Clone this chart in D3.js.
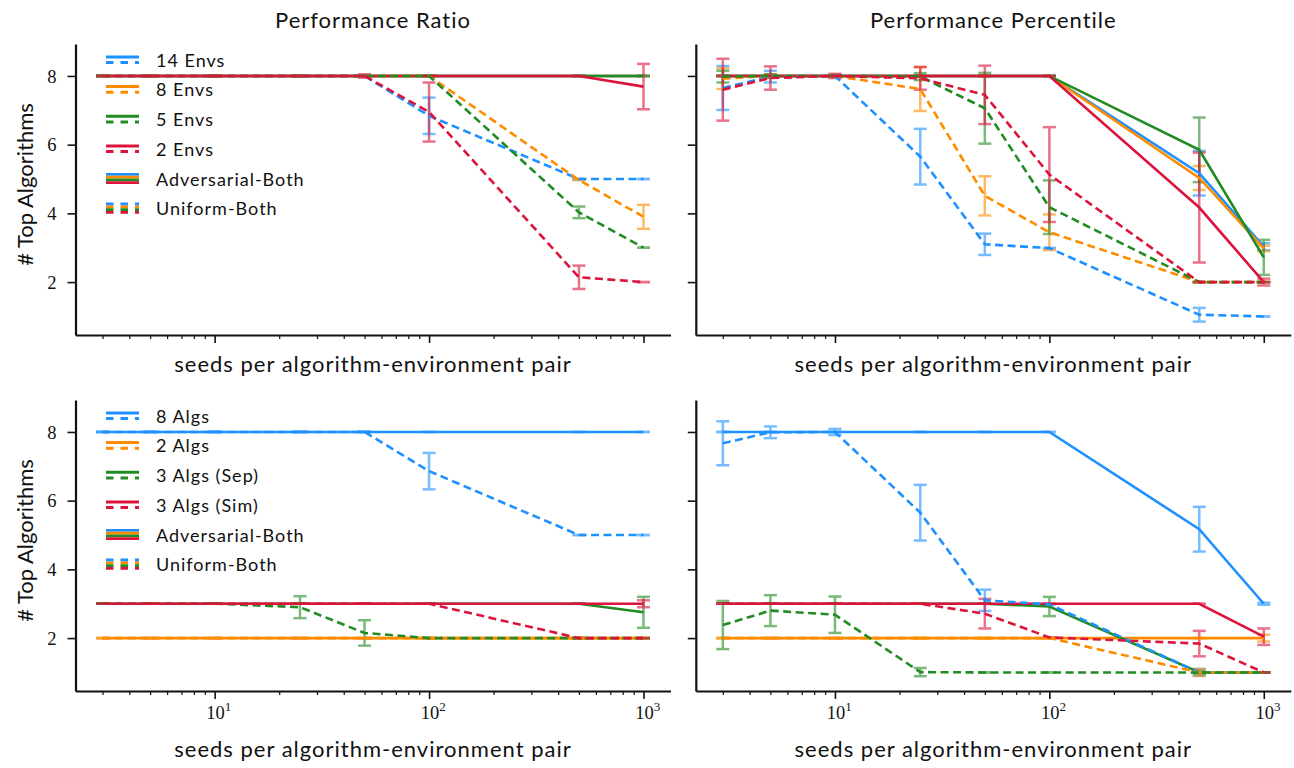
<!DOCTYPE html>
<html>
<head>
<meta charset="utf-8">
<script src="https://cdn.jsdelivr.net/npm/d3@7"></script>
<style>
  body { margin: 0; background: #fff; }
  .lbl { font-family: Lato, "Open Sans", sans-serif; fill: #111; letter-spacing: 1px; }
  .num { font-family: "Liberation Serif", "DejaVu Serif", serif; fill: #111; }
</style>
</head>
<body>
<div id="chart"></div>
<script>
// x values shared by every panel
var seeds = [3, 5, 10, 25, 50, 100, 500, 1000];
var colors = ["#1e90ff", "#ff8c00", "#228b22", "#dc143c"];
var envNames = ["14 Envs", "8 Envs", "5 Envs", "2 Envs"];
var algNames = ["8 Algs", "2 Algs", "3 Algs (Sep)", "3 Algs (Sim)"];
var titles = ["Performance Ratio", "Performance Percentile"];
var yTicks = [2, 4, 6, 8];
var xMajor = [10, 100, 1000];
var xMinor = [3, 4, 5, 6, 7, 8, 9, 20, 30, 40, 50, 60, 70, 80, 90, 200, 300, 400, 500, 600, 700, 800, 900];

// top-left: performance ratio, environments
var ratioEnvsAdv = [
  [8, 8, 8, 8, 8, 8, 8, 8],
  [8, 8, 8, 8, 8, 8, 8, 8],
  [8, 8, 8, 8, 8, 8, 8, 8],
  [8, 8, 8, 8, 8, 8, 8, 7.69]
];
var ratioEnvsAdvErr = [
  [0, 0, 0, 0, 0, 0, 0, 0],
  [0, 0, 0, 0, 0, 0, 0, 0],
  [0, 0, 0, 0, 0, 0, 0, 0],
  [0, 0, 0, 0, 0, 0, 0, 0.66]
];
var ratioEnvsUni = [
  [8, 8, 8, 8, 8, 6.84, 5, 5],
  [8, 8, 8, 8, 8, 8, 4.97, 3.9],
  [8, 8, 8, 8, 8, 8, 4.03, 3.0],
  [8, 8, 8, 8, 8, 6.95, 2.14, 2.0]
];
var ratioEnvsUniErr = [
  [0, 0, 0, 0, 0, 0.53, 0, 0],
  [0, 0, 0, 0, 0, 0, 0, 0.35],
  [0, 0, 0, 0, 0, 0, 0.17, 0],
  [0, 0, 0, 0, 0.05, 0.86, 0.34, 0]
];

// top-right: performance percentile, environments
var pctEnvsAdv = [
  [8, 8, 8, 8, 8, 8, 5.17, 3.03],
  [8, 8, 8, 8, 8, 8, 5.03, 2.98],
  [8, 8, 8, 8, 8, 8, 5.85, 2.72],
  [8, 8, 8, 8, 8, 8, 4.17, 2.0]
];
var pctEnvsAdvErr = [
  [0, 0, 0, 0, 0, 0, 0.65, 0.1],
  [0, 0, 0, 0, 0, 0, 0.35, 0.08],
  [0, 0, 0, 0, 0, 0, 0.94, 0.51],
  [0, 0, 0, 0, 0, 0, 1.6, 0.1]
];
var pctEnvsUni = [
  [7.65, 7.98, 8, 5.65, 3.1, 2.99, 1.05, 1.0],
  [7.92, 8, 8, 7.62, 4.51, 3.45, 2.0, 2.0],
  [7.98, 8, 8, 7.98, 7.06, 4.18, 2.0, 2.0],
  [7.6, 7.94, 8, 7.93, 7.45, 5.13, 2.0, 2.0]
];
var pctEnvsUniErr = [
  [0.64, 0.17, 0.03, 0.81, 0.31, 0, 0.2, 0],
  [0.3, 0.05, 0.03, 0.64, 0.57, 0.52, 0, 0],
  [0.17, 0.05, 0, 0.1, 1.03, 0.78, 0, 0],
  [0.9, 0.34, 0.06, 0.33, 0.85, 1.38, 0, 0]
];

// bottom-left: performance ratio, algorithms
var ratioAlgsAdv = [
  [8, 8, 8, 8, 8, 8, 8, 8],
  [2, 2, 2, 2, 2, 2, 2, 2],
  [3, 3, 3, 3, 3, 3, 3, 2.75],
  [3, 3, 3, 3, 3, 3, 3, 3]
];
var ratioAlgsAdvErr = [
  [0, 0, 0, 0, 0, 0, 0, 0],
  [0, 0, 0, 0, 0, 0, 0, 0],
  [0, 0, 0, 0, 0, 0, 0, 0.45],
  [0, 0, 0, 0, 0, 0, 0, 0.1]
];
var ratioAlgsUni = [
  [8, 8, 8, 8, 8, 6.86, 5, 5],
  [2, 2, 2, 2, 2, 2, 2, 2],
  [3, 3, 3, 2.9, 2.15, 2, 2, 2],
  [3, 3, 3, 3, 3, 3, 2, 2]
];
var ratioAlgsUniErr = [
  [0, 0, 0, 0, 0, 0.53, 0, 0],
  [0, 0, 0, 0, 0, 0, 0, 0],
  [0, 0, 0, 0.32, 0.37, 0, 0, 0],
  [0, 0, 0, 0, 0, 0, 0, 0]
];

// bottom-right: performance percentile, algorithms
var pctAlgsAdv = [
  [8, 8, 8, 8, 8, 8, 5.17, 3.0],
  [2, 2, 2, 2, 2, 2, 2, 2],
  [3, 3, 3, 3, 3, 2.92, 1.0, 1.0],
  [3, 3, 3, 3, 3, 3, 3, 2.04]
];
var pctAlgsAdvErr = [
  [0, 0, 0, 0, 0, 0, 0.65, 0.03],
  [0, 0, 0, 0, 0, 0, 0, 0.1],
  [0, 0, 0, 0, 0, 0.28, 0.05, 0],
  [0, 0, 0, 0, 0, 0, 0, 0.24]
];
var pctAlgsUni = [
  [7.67, 7.99, 8, 5.65, 3.1, 2.98, 1.0, 1.0],
  [2, 2, 2, 2, 2, 2, 1.0, 1.0],
  [2.38, 2.8, 2.68, 1.01, 1.0, 1.0, 1.0, 1.0],
  [3, 3, 3, 3, 2.71, 2.02, 1.84, 1.0]
];
var pctAlgsUniErr = [
  [0.64, 0.17, 0.09, 0.81, 0.31, 0, 0.1, 0],
  [0, 0, 0, 0, 0, 0, 0.1, 0],
  [0.7, 0.45, 0.53, 0.12, 0, 0, 0, 0],
  [0, 0, 0, 0, 0.43, 0, 0.37, 0]
];

var width = 1294, height = 768;
var cols = [{ x0: 75.5, x1: 670.5 }, { x0: 695.8, x1: 1290.8 }];
var rows = [{ y0: 44, y1: 335 }, { y0: 400, y1: 691 }];

var panels = [
  { row: 0, col: 0, adv: ratioEnvsAdv, advErr: ratioEnvsAdvErr, uni: ratioEnvsUni, uniErr: ratioEnvsUniErr, names: envNames },
  { row: 0, col: 1, adv: pctEnvsAdv, advErr: pctEnvsAdvErr, uni: pctEnvsUni, uniErr: pctEnvsUniErr, names: envNames },
  { row: 1, col: 0, adv: ratioAlgsAdv, advErr: ratioAlgsAdvErr, uni: ratioAlgsUni, uniErr: ratioAlgsUniErr, names: algNames },
  { row: 1, col: 1, adv: pctAlgsAdv, advErr: pctAlgsAdvErr, uni: pctAlgsUni, uniErr: pctAlgsUniErr, names: algNames }
];

var svg = d3.select("#chart").append("svg")
  .attr("width", width)
  .attr("height", height);

var DASH = "8,4.5";

panels.forEach(function(p) {
  var c = cols[p.col], r = rows[p.row];
  var x = d3.scaleLog()
    .domain([Math.pow(10, 0.351), Math.pow(10, 3.126)])
    .range([c.x0, c.x1]);
  var y = d3.scaleLinear()
    .domain([0.46, 8.93])
    .range([r.y1, r.y0]);
  var g = svg.append("g");

  // axes
  var minorAxis = d3.axisBottom(x).tickValues(xMinor).tickSize(4).tickFormat("").tickSizeOuter(0);
  var gMinor = g.append("g").attr("transform", "translate(0," + r.y1 + ")").call(minorAxis);
  gMinor.select(".domain").remove();
  gMinor.selectAll(".tick line").attr("stroke", "#111").attr("stroke-width", 1.2);

  var majorAxis = d3.axisBottom(x).tickValues(xMajor).tickSize(8).tickSizeOuter(0);
  var gMajor = g.append("g").attr("transform", "translate(0," + r.y1 + ")").call(majorAxis);
  gMajor.select(".domain").attr("stroke", "#111").attr("stroke-width", 2.2);
  gMajor.selectAll(".tick line").attr("stroke", "#111").attr("stroke-width", 1.6);
  gMajor.selectAll(".tick text").each(function(d) {
    var t = d3.select(this);
    if (p.row === 0) { t.remove(); return; }
    t.text(null)
      .attr("class", "num")
      .attr("font-size", "18.5px")
      .attr("y", 28).attr("dy", 0)
      .attr("dx", "0.2em");
    t.append("tspan").text("10");
    t.append("tspan").attr("dy", -8).attr("font-size", "13px").text(Math.round(Math.log10(d)));
  });

  var leftAxis = d3.axisLeft(y).tickValues(yTicks).tickSize(8).tickSizeOuter(0).tickFormat(d3.format("d"));
  var gLeft = g.append("g").attr("transform", "translate(" + c.x0 + ",0)").call(leftAxis);
  gLeft.select(".domain").attr("stroke", "#111").attr("stroke-width", 2.2);
  gLeft.selectAll(".tick line").attr("stroke", "#111").attr("stroke-width", 1.6);
  gLeft.selectAll(".tick text").each(function() {
    var t = d3.select(this);
    if (p.col === 1) { t.remove(); return; }
    t.attr("class", "num").attr("font-size", "18.5px").attr("x", -19).attr("dy", "0.34em");
  });

  // series: solid adversarial first, then dashed uniform
  var line = d3.line().x(function(d) { return x(d[0]); }).y(function(d) { return y(d[1]); });
  var sets = [
    { vals: p.adv, errs: p.advErr, dash: null },
    { vals: p.uni, errs: p.uniErr, dash: DASH }
  ];

  // error bars
  sets.forEach(function(s) {
    s.vals.forEach(function(vals, i) {
      var eb = g.append("g").attr("stroke", colors[i]).attr("stroke-width", 2.5).attr("opacity", 0.6);
      vals.forEach(function(v, k) {
        var e = s.errs[i][k];
        var px = x(seeds[k]);
        eb.append("line").attr("x1", px).attr("x2", px).attr("y1", y(v - e)).attr("y2", y(v + e));
        eb.append("line").attr("x1", px - 6.5).attr("x2", px + 6.5).attr("y1", y(v - e)).attr("y2", y(v - e));
        eb.append("line").attr("x1", px - 6.5).attr("x2", px + 6.5).attr("y1", y(v + e)).attr("y2", y(v + e));
      });
    });
  });

  // lines
  sets.forEach(function(s) {
    s.vals.forEach(function(vals, i) {
      g.append("path")
        .attr("d", line(seeds.map(function(sd, k) { return [sd, vals[k]]; })))
        .attr("fill", "none")
        .attr("stroke", colors[i])
        .attr("stroke-width", 2.6)
        .attr("stroke-dasharray", s.dash);
    });
  });

  // titles and labels
  if (p.row === 0) {
    g.append("text").attr("class", "lbl").attr("font-size", "22px")
      .attr("x", (c.x0 + c.x1) / 2).attr("y", 28).attr("text-anchor", "middle")
      .text(titles[p.col]);
  }
  g.append("text").attr("class", "lbl").attr("font-size", "22px")
    .attr("x", (c.x0 + c.x1) / 2).attr("y", p.row === 0 ? r.y1 + 37 : r.y1 + 66)
    .attr("text-anchor", "middle")
    .text("seeds per algorithm-environment pair");
  if (p.col === 0) {
    g.append("text").attr("class", "lbl").attr("font-size", "22px")
      .style("letter-spacing", "0px")
      .attr("transform", "translate(33," + ((r.y0 + r.y1) / 2 - 5) + ") rotate(-90)")
      .attr("text-anchor", "middle")
      .text("# Top Algorithms");

    // legend
    var lg = g.append("g");
    var hx0 = 106, hx1 = 139;
    var labels = p.names.concat(["Adversarial-Both", "Uniform-Both"]);
    labels.forEach(function(name, j) {
      var base = r.y0 + 22.7 + j * 29.7;
      var cy = base - 7;
      if (j < 4) {
        lg.append("line").attr("x1", hx0).attr("x2", hx1).attr("y1", cy - 2.8).attr("y2", cy - 2.8)
          .attr("stroke", colors[j]).attr("stroke-width", 3);
        lg.append("line").attr("x1", hx0).attr("x2", hx1).attr("y1", cy + 2.8).attr("y2", cy + 2.8)
          .attr("stroke", colors[j]).attr("stroke-width", 3).attr("stroke-dasharray", "7.5,7");
      } else {
        colors.forEach(function(col, q) {
          lg.append("line").attr("x1", hx0).attr("x2", hx1)
            .attr("y1", cy - 4.2 + q * 2.8).attr("y2", cy - 4.2 + q * 2.8)
            .attr("stroke", col).attr("stroke-width", 2.8)
            .attr("stroke-dasharray", j === 5 ? "7.5,7" : null);
        });
      }
      lg.append("text").attr("class", "lbl").attr("font-size", "18px")
        .attr("x", 156).attr("y", base).text(name);
    });
  }
});
</script>
</body>
</html>
